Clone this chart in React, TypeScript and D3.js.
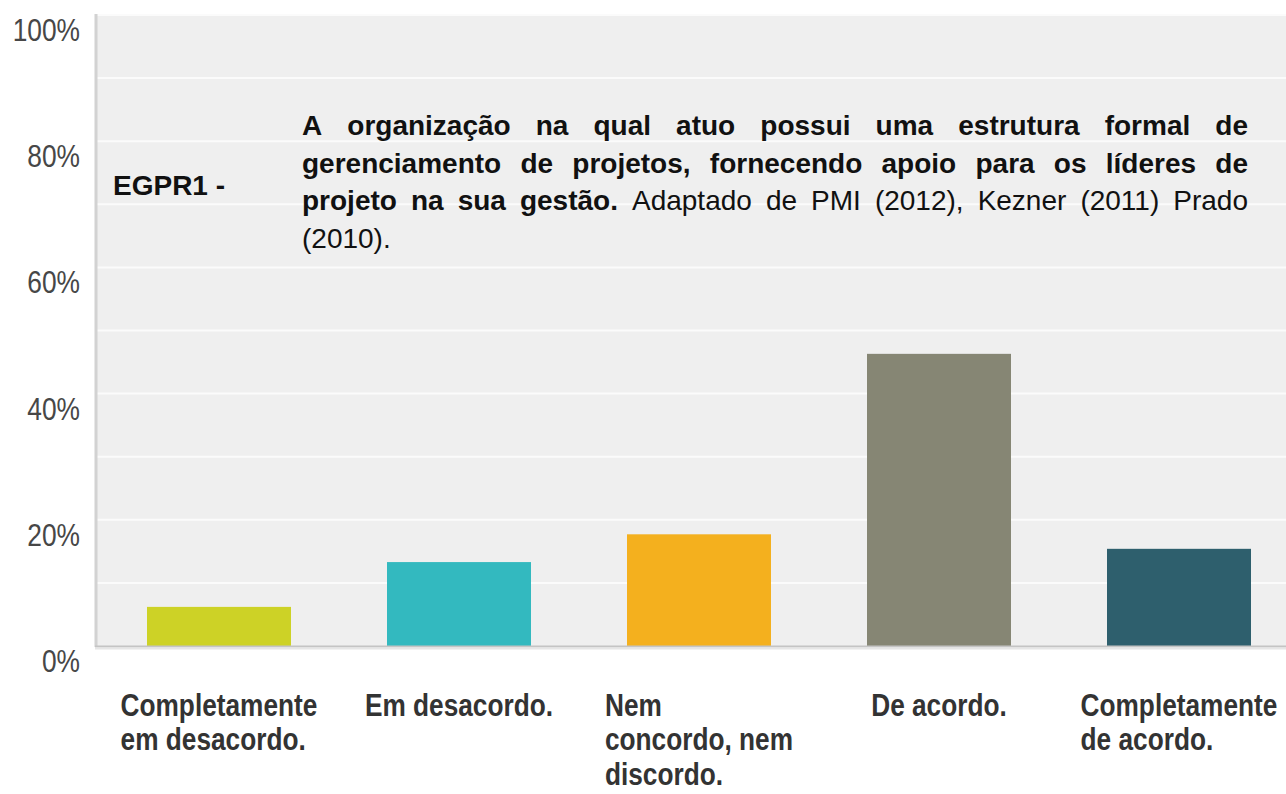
import React from "react";
import * as d3 from "d3";

const categories: string[][] = [
  ["Completamente", "em desacordo."],
  ["Em desacordo."],
  ["Nem", "concordo, nem", "discordo."],
  ["De acordo."],
  ["Completamente", "de acordo."],
];
const values: number[] = [6.2, 13.3, 17.7, 46.3, 15.4];
const barColors: string[] = ["#cdd226", "#33b9bf", "#f4b01e", "#868674", "#2e5f6d"];
const yTicks: number[] = [0, 20, 40, 60, 80, 100];
const gridValues: number[] = [10, 20, 30, 40, 50, 60, 70, 80, 90, 100];
const prefixLabel = "EGPR1 -";
const titleLines: { t: string; b: boolean }[][] = [
  [{ t: "A organização na qual atuo possui uma estrutura formal de", b: true }],
  [{ t: "gerenciamento de projetos, fornecendo apoio para os líderes de", b: true }],
  [
    { t: "projeto na sua gestão.", b: true },
    { t: "Adaptado de PMI (2012), Kezner (2011) Prado", b: false },
  ],
  [{ t: "(2010).", b: false }],
];

const W = 1286;
const H = 794;
const FONT = "'Liberation Sans', Arial, Helvetica, sans-serif";

let ctx: CanvasRenderingContext2D | null = null;
function measure(text: string, font: string): number {
  if (!ctx) {
    const c = document.createElement("canvas");
    ctx = c.getContext("2d");
  }
  if (!ctx) return text.length * 14;
  ctx.font = font;
  return ctx.measureText(text).width;
}

export default function App() {
  const plotLeft = 97;
  const plotTop = 14;
  const plotBottom = 646;
  const x = d3
    .scaleBand<number>()
    .domain(d3.range(categories.length))
    .range([99, 1299])
    .paddingInner(0.4)
    .paddingOuter(0.2);
  const y = d3.scaleLinear().domain([0, 100]).range([646, 15]);

  // title layout (justified)
  const titleX0 = 302;
  const titleX1 = 1248;
  const titleFs = 28;
  const titleBase = 135;
  const titleLh = 37.6;
  const titleNodes: React.ReactNode[] = [];
  titleLines.forEach((segs, li) => {
    const words: { w: string; b: boolean; width: number }[] = [];
    segs.forEach((s) => {
      s.t.split(" ").forEach((w) => {
        const f = `${s.b ? "bold " : ""}${titleFs}px ${FONT}`;
        words.push({ w, b: s.b, width: measure(w, f) });
      });
    });
    const justify = li < titleLines.length - 1;
    const total = d3.sum(words, (d) => d.width);
    const gap = justify && words.length > 1
      ? (titleX1 - titleX0 - total) / (words.length - 1)
      : measure(" ", `${titleFs}px ${FONT}`);
    let cx = titleX0;
    words.forEach((wd, wi) => {
      titleNodes.push(
        <text
          key={`t${li}-${wi}`}
          x={cx}
          y={titleBase + li * titleLh}
          fontFamily={FONT}
          fontSize={titleFs}
          fontWeight={wd.b ? "bold" : "normal"}
          fill="#111"
        >
          {wd.w}
        </text>
      );
      cx += wd.width + gap;
    });
  });

  const catFs = 32;
  const catScale = 0.82;
  const catLh = 34.5;
  const tickFs = 31;
  const tickScale = 0.85;

  return (
    <svg
      width={W}
      height={H}
      style={{ position: "absolute", left: 0, top: 0, background: "#ffffff" }}
    >
      <rect x={plotLeft} y={plotTop} width={W - plotLeft} height={plotBottom - plotTop} fill="#efefef" />
      {gridValues.map((g) => (
        <line key={g} x1={plotLeft} x2={W} y1={y(g)} y2={y(g)} stroke="#fbfbfb" strokeWidth={2} />
      ))}
      {values.map((v, i) => (
        <rect
          key={i}
          x={x(i)}
          y={y(v)}
          width={x.bandwidth()}
          height={y(0) - y(v)}
          fill={barColors[i]}
        />
      ))}
      <line x1={plotLeft - 1} x2={plotLeft - 1} y1={plotTop} y2={plotBottom + 1} stroke="#d2d2d2" strokeWidth={3} />
      <line x1={plotLeft - 2} x2={W} y1={plotBottom + 0.5} y2={plotBottom + 0.5} stroke="#c4c4c4" strokeWidth={2} />
      <line x1={plotLeft - 2} x2={W} y1={plotBottom + 2.5} y2={plotBottom + 2.5} stroke="#e6e6e6" strokeWidth={2} />
      {yTicks.map((t) => (
        <g key={t} transform={`translate(80,${y(t) + 26}) scale(${tickScale},1)`}>
          <text x={0} y={0} textAnchor="end" fontFamily={FONT} fontSize={tickFs} fill="#474747">
            {`${t}%`}
          </text>
        </g>
      ))}
      {categories.map((lines, i) => {
        const maxW = d3.max(lines, (l) => measure(l, `bold ${catFs}px ${FONT}`)) || 0;
        const cx = (x(i) || 0) + x.bandwidth() / 2;
        const left = cx - (maxW * catScale) / 2;
        return (
          <g key={i} transform={`translate(${left},716) scale(${catScale},1)`}>
            {lines.map((l, li) => (
              <text
                key={li}
                x={0}
                y={li * catLh}
                fontFamily={FONT}
                fontSize={catFs}
                fontWeight="bold"
                fill="#333333"
              >
                {l}
              </text>
            ))}
          </g>
        );
      })}
      <text x={113} y={195} fontFamily={FONT} fontSize={28} fontWeight="bold" fill="#111">
        {prefixLabel}
      </text>
      {titleNodes}
    </svg>
  );
}
